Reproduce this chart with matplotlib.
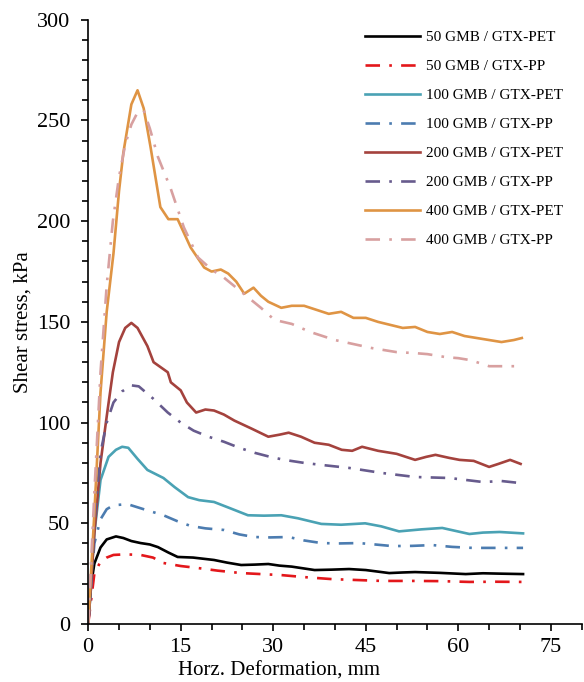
import matplotlib
matplotlib.use("Agg")
import matplotlib.pyplot as plt
from matplotlib.ticker import MultipleLocator

plt.rcParams["font.family"] = ["Liberation Serif", "DejaVu Serif"]

# curves: deformation (mm) and shear stress (kPa)
x_50_pet = [0, 0.5, 1, 2, 3, 4.5, 5.7, 7, 8.5, 10, 11.3, 13, 14.5, 17, 20.4, 22.5, 24.8, 27, 29.2,
            31, 33, 36.7, 39.5, 42.3, 45, 48.8, 51, 53, 57, 61.2, 64, 67, 70.5]
y_50_pet = [0, 20, 30, 38, 42, 43.5, 42.7, 41.2, 40.2, 39.5, 38.2, 35.5, 33.3, 33, 31.8, 30.5, 29.3, 29.5, 29.8,
            29, 28.5, 26.8, 27, 27.3, 26.8, 25.3, 25.6, 25.8, 25.4, 24.8, 25.2, 25, 24.8]

x_50_pp = [0, 1, 2, 3, 4.1, 6, 8.5, 10.5, 12.2, 15, 17.8, 21, 24.8, 28, 31.3, 35, 39.5, 44, 47.6, 53,
           57, 61.8, 66, 70.5]
y_50_pp = [0, 25, 31, 33, 34.3, 34.6, 34.3, 33, 30.3, 28.8, 27.8, 26.5, 25.3, 24.8, 24.3, 23.3, 22.3, 21.8,
           21.4, 21.4, 21.3, 20.9, 21, 20.9]

x_100_pet = [0, 1, 2, 3.3, 4.5, 5.5, 6.5, 8, 9.6, 12.2, 14, 16.2, 18, 20.4, 23, 25.9, 28.5, 31.3, 34, 37.8,
             41, 44.9, 47.5, 50.4, 54, 57.4, 61.8, 64, 66.7, 70.5]
y_100_pet = [0, 45, 71.5, 83, 86.5, 88, 87.5, 82, 76.5, 72.5, 68, 63, 61.5, 60.6, 57.5, 54, 53.8, 54, 52.5, 49.7,
             49.3, 50, 48.5, 46, 47, 47.7, 44.7, 45.4, 45.7, 45]

x_100_pp = [0, 1, 2, 3, 4.1, 6.4, 9, 12.2, 14.5, 16.6, 19, 22, 24.5, 26.9, 29.5, 32.5, 35, 37.8, 40.5, 43.9,
            46.5, 49.3, 52.5, 55.8, 59, 62.3, 66, 70.5]
y_100_pp = [0, 40, 52, 57, 59, 59.5, 57, 54, 51, 48.7, 47.5, 46.7, 44.5, 43.2, 43, 43.2, 41.5, 40.2, 40, 40.2,
            39.5, 38.7, 38.8, 39.2, 38.3, 37.8, 37.8, 37.8]

x_200_pet = [0, 1, 2, 3, 4, 5, 6, 7, 8, 9.6, 10.6, 12.9, 13.4, 15, 16, 17.5, 19, 20.4, 22, 23.7, 26.5,
             29.2, 31, 32.5, 34.5, 36.7, 39, 41.1, 42.8, 44.4, 47, 50, 53, 54.8, 56.3, 58.5, 60.2, 62.5, 65,
             66.5, 68.4, 70.1]
y_200_pet = [0, 45, 80, 103, 125, 140, 147, 149.5, 147, 138, 130, 125, 120, 116, 110, 105, 106.5, 106, 104, 101, 97,
             93, 94, 95, 93, 90, 89, 86.5, 86, 88, 86, 84.5, 81.5, 83, 84, 82.5, 81.5, 81, 78, 79.5, 81.5, 79.5]

x_200_pp = [0, 1, 2, 3, 4.1, 5.5, 7, 8.2, 10.5, 12.9, 15, 17.1, 19.5, 22, 24.5, 27, 29.5, 31.8, 35, 37.8,
            42.3, 47.6, 53, 58.6, 64, 67, 70]
y_200_pp = [0, 50, 85, 100, 110, 115.5, 118.5, 118, 112, 105, 100, 96, 93, 90.5, 87.5, 85, 83, 81.5, 80, 79,
            77.5, 75, 73, 72.5, 70.5, 71, 70]

x_400_pet = [0, 1, 2, 3, 4.1, 5, 5.7, 7, 8, 9, 10.1, 11.7, 13, 14.5, 16.6, 18.8, 20, 21.5, 22.7, 24, 25.3,
             26.8, 28, 29.2, 31.3, 33, 35, 37, 39, 41, 43, 45, 47, 49, 51, 53, 55, 57, 59, 61, 63, 65, 67,
             69, 70.3]
y_400_pet = [0, 55, 115, 155, 184, 215, 234, 258, 265, 256, 237, 207, 201, 201, 187, 177, 175, 176, 174, 170, 164,
             167, 163, 160, 157, 158, 158, 156, 154, 155, 152, 152, 150, 148.5, 147, 147.5, 145, 144, 145, 143, 142,
             141, 140, 141, 142]

x_400_pp = [0, 1, 2, 3, 4, 5, 6, 7, 8, 9, 10, 11.3, 13.4, 15.5, 17.8, 20, 22, 24, 26, 28, 30.2, 33, 36,
            40, 43, 46, 50, 53, 55, 58, 60, 62, 65, 68, 70]
y_400_pp = [0, 65, 125, 168, 200, 222, 238, 248, 254, 255, 246, 232, 216, 197, 182, 176, 172, 167, 162, 157, 151,
            149, 145, 141, 139, 137, 135, 134.5, 134, 132.5, 132, 131, 128, 128, 128]

dashdot = (0, (5.5, 3.5, 1, 3.5))
series = [
    (x_50_pet, y_50_pet, "50 GMB / GTX-PET", "#000000", "-"),
    (x_50_pp, y_50_pp, "50 GMB / GTX-PP", "#e3171b", dashdot),
    (x_100_pet, y_100_pet, "100 GMB / GTX-PET", "#4aa2b4", "-"),
    (x_100_pp, y_100_pp, "100 GMB / GTX-PP", "#4c7cb0", dashdot),
    (x_200_pet, y_200_pet, "200 GMB / GTX-PET", "#a4423d", "-"),
    (x_200_pp, y_200_pp, "200 GMB / GTX-PP", "#675b8d", dashdot),
    (x_400_pet, y_400_pet, "400 GMB / GTX-PET", "#df9444", "-"),
    (x_400_pp, y_400_pp, "400 GMB / GTX-PP", "#d8a0a0", dashdot),
]

fig = plt.figure(figsize=(5.84, 6.82), dpi=100)
ax = fig.add_axes([0.151, 0.085, 0.845, 0.886])

for xs, ys, lab, col, ls in series:
    ax.plot(xs, ys, color=col, linestyle=ls, linewidth=1.9, label=lab)

ax.set_xlim(0, 80)
ax.set_ylim(0, 300)
ax.xaxis.set_major_locator(MultipleLocator(15))
ax.xaxis.set_minor_locator(MultipleLocator(5))
ax.yaxis.set_major_locator(MultipleLocator(50))
ax.yaxis.set_minor_locator(MultipleLocator(10))
ax.tick_params(which="major", direction="out", length=5, width=1.2, labelsize=16)
ax.tick_params(axis="y", which="major", pad=8)
ax.tick_params(axis="x", which="major", pad=5)
ax.tick_params(which="minor", direction="out", length=4, width=1.2)
ax.spines["top"].set_visible(False)
ax.spines["right"].set_visible(False)
ax.spines["left"].set_linewidth(1.2)
ax.spines["bottom"].set_linewidth(1.2)

ax.set_xlabel("Horz. Deformation, mm", fontsize=15)
ax.xaxis.set_label_coords(0.387, -0.062)
ax.set_ylabel("Shear stress, kPa", fontsize=15, labelpad=3)

ax.legend(loc="upper right", bbox_to_anchor=(0.99, 1.005), frameon=False, fontsize=11,
          handlelength=3.6, handletextpad=0.4, labelspacing=1.0)

fig.savefig("out.png", dpi=100)
